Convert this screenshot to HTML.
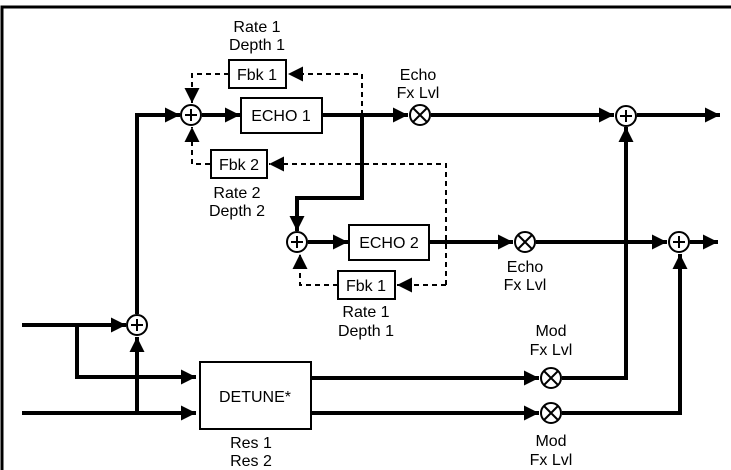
<!DOCTYPE html>
<html><head><meta charset="utf-8"><style>
html,body{margin:0;padding:0;background:#fff;}
svg{display:block;}
text{font-family:"Liberation Sans",Arial,sans-serif;font-size:16px;fill:#000;text-anchor:middle;}
</style></head><body>
<svg width="731" height="470" viewBox="0 0 731 470" xmlns="http://www.w3.org/2000/svg">
<defs>
<marker id="a" viewBox="0 0 10 10" refX="10" refY="5" markerWidth="15" markerHeight="15" markerUnits="userSpaceOnUse" orient="auto"><path d="M0,0 L10,5 L0,10 z" fill="#000"/></marker>
</defs>
<path d="M2,470 L2,7 L731,7" fill="none" stroke="#000" stroke-width="3"/>
<g fill="none" stroke="#000" stroke-width="4">
<path d="M22,325 L126,325" marker-end="url(#a)"/>
<path d="M22,413 L196,413" marker-end="url(#a)"/>
<path d="M77,325 L77,377 L196,377" marker-end="url(#a)"/>
<path d="M137,413 L137,337" marker-end="url(#a)"/>
<path d="M137,314 L137,115 L180,115" marker-end="url(#a)"/>
<path d="M202,115 L240,115" marker-end="url(#a)"/>
<path d="M322,115 L408,115" marker-end="url(#a)"/>
<path d="M362,115 L362,198 L297,198 L297,231" marker-end="url(#a)"/>
<path d="M431,115 L614,115" marker-end="url(#a)"/>
<path d="M637,115 L720,115" marker-end="url(#a)"/>
<path d="M308,242 L348,242" marker-end="url(#a)"/>
<path d="M429,242 L513,242" marker-end="url(#a)"/>
<path d="M536,242 L667,242" marker-end="url(#a)"/>
<path d="M690,242 L718,242" marker-end="url(#a)"/>
<path d="M311,378 L539,378" marker-end="url(#a)"/>
<path d="M311,413 L539,413" marker-end="url(#a)"/>
<path d="M562,378 L626,378 L626,127" marker-end="url(#a)"/>
<path d="M562,413 L680,413 L680,254" marker-end="url(#a)"/>
</g>
<g fill="none" stroke="#000" stroke-width="2" stroke-dasharray="5,4">
<path d="M362,115 L362,74 L288,74" marker-end="url(#a)"/>
<path d="M229,74 L192,74 L192,103" marker-end="url(#a)"/>
<path d="M446,285 L446,164 L269,164" marker-end="url(#a)"/>
<path d="M210,164 L192,164 L192,127" marker-end="url(#a)"/>
<path d="M446,285 L397,285" marker-end="url(#a)"/>
<path d="M338,285 L300,285 L300,254" marker-end="url(#a)"/>
</g>
<g fill="#fff" stroke="#000" stroke-width="2">
<rect x="241" y="98" width="81" height="35"/>
<rect x="229" y="60" width="57" height="28"/>
<rect x="211" y="150" width="56" height="28"/>
<rect x="349" y="225" width="80" height="35"/>
<rect x="338" y="271" width="57" height="28"/>
<rect x="200" y="362" width="111" height="67"/>
</g>
<g fill="#fff" stroke="#000" stroke-width="2">
<circle cx="191" cy="115" r="10"/>
<circle cx="297" cy="242" r="10"/>
<circle cx="137" cy="325" r="10"/>
<circle cx="626" cy="116" r="10"/>
<circle cx="679" cy="242" r="10"/>
<circle cx="420" cy="115" r="10"/>
<circle cx="525" cy="242" r="10"/>
<circle cx="551" cy="378" r="10"/>
<circle cx="551" cy="413" r="10"/>
</g>
<g stroke="#000" stroke-width="2">
<path d="M185,115h12M191,109v12"/>
<path d="M291,242h12M297,236v12"/>
<path d="M131,325h12M137,319v12"/>
<path d="M620,116h12M626,110v12"/>
<path d="M673,242h12M679,236v12"/>
<path d="M413,108l14,14M427,108l-14,14"/>
<path d="M518,235l14,14M532,235l-14,14"/>
<path d="M544,371l14,14M558,371l-14,14"/>
<path d="M544,406l14,14M558,406l-14,14"/>
</g>
<text x="281" y="121">ECHO 1</text>
<text x="257" y="80">Fbk 1</text>
<text x="239" y="170">Fbk 2</text>
<text x="389" y="248">ECHO 2</text>
<text x="366" y="291">Fbk 1</text>
<text x="255" y="402">DETUNE*</text>
<text x="257" y="32">Rate 1</text>
<text x="257" y="50">Depth 1</text>
<text x="418" y="80">Echo</text>
<text x="418" y="98">Fx Lvl</text>
<text x="237" y="198">Rate 2</text>
<text x="237" y="216">Depth 2</text>
<text x="525" y="272">Echo</text>
<text x="525" y="290">Fx Lvl</text>
<text x="366" y="317">Rate 1</text>
<text x="366" y="336">Depth 1</text>
<text x="551" y="336">Mod</text>
<text x="551" y="355">Fx Lvl</text>
<text x="251" y="448">Res 1</text>
<text x="251" y="466">Res 2</text>
<text x="551" y="446">Mod</text>
<text x="551" y="465">Fx Lvl</text>
</svg>
</body></html>
